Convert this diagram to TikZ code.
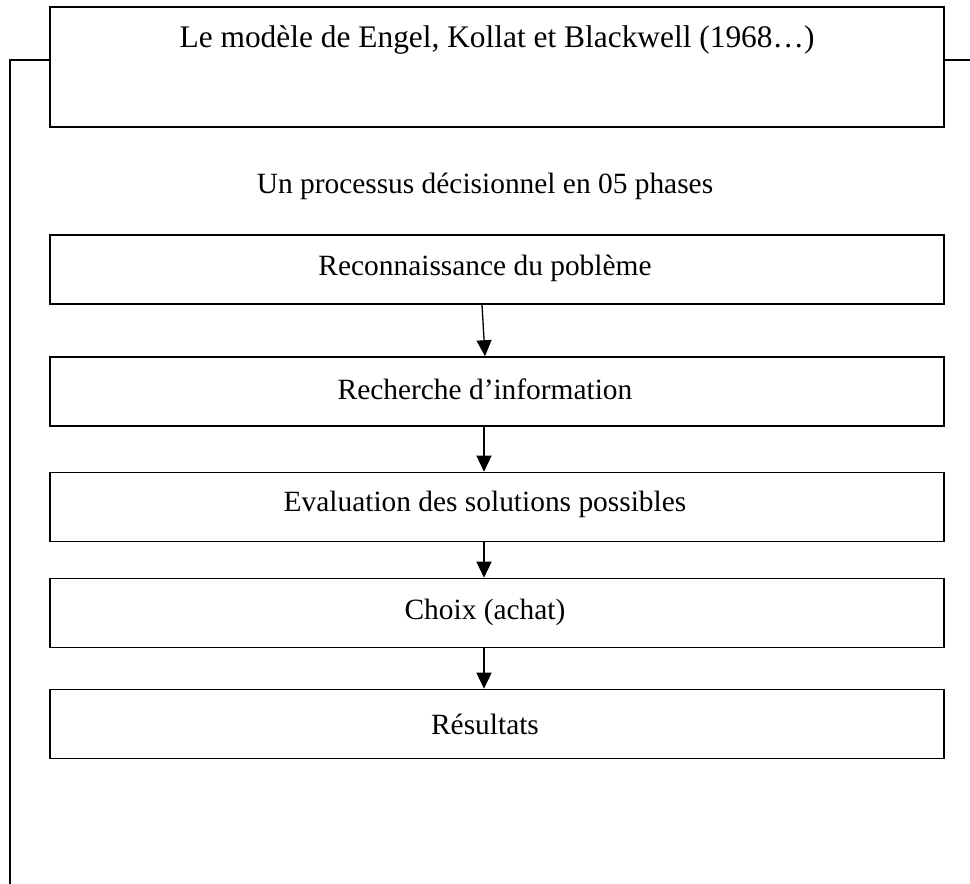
\documentclass[tikz,border=0pt]{standalone}
\usepackage{fontspec}
\setmainfont{Liberation Serif}
\usetikzlibrary{arrows.meta}
\begin{document}
\begin{tikzpicture}[x=1pt,y=-1pt,line width=1.6pt,
  frame/.style={draw,minimum width=894pt,inner sep=0pt},
  phase/.style={frame,minimum height=69pt},
  lbl/.style={font=\fontsize{29.4}{34}\selectfont,inner sep=0pt},
  flow/.style={-{Triangle[length=16pt,width=15pt]},line width=1.3pt}]
\useasboundingbox (0,0) rectangle (970,884);

% title box and the bracket that runs down the left side
\node[frame,minimum height=120pt] (title) at (497,67) {};
\node[lbl,font=\fontsize{31.4}{36}\selectfont] (ttl) at (497,40) {Le modèle de Engel, Kollat et Blackwell (1968…)};
\coordinate (bl) at (10,884);
\coordinate (br) at (970,60);
\draw (bl) -- (10,60) -- (title.west |- br);
\draw (title.east |- br) -- (br);

\node[lbl] (sub) at (485,186) {Un processus décisionnel en 05 phases};

% the five phases
\node[phase] (b1) at (497,269.5) {};
\node[phase] (b2) at (497,391.5) {};
\node[phase] (b3) at (497,507) {};
\node[phase] (b4) at (497,613) {};
\node[phase] (b5) at (497,724) {};

\node[lbl] (t1) at (485,268) {Reconnaissance du poblème};
\node[lbl] (t2) at (485,389) {Recherche d’information};
\node[lbl] (t3) at (485,504) {Evaluation des solutions possibles};
\node[lbl] (t4) at (485,612) {Choix (achat)};
\node[lbl] (t5) at (485,724) {Résultats};

% arrows between phases
\coordinate (ax) at (484,0);
\coordinate (ax0) at (482,0);
\coordinate (ax1) at (485,0);
\draw[flow] (b1.south -| ax0) -- (b2.north -| ax1);
\draw[flow] (b2.south -| ax) -- (b3.north -| ax);
\draw[flow] (b3.south -| ax) -- (b4.north -| ax);
\draw[flow] (b4.south -| ax) -- (b5.north -| ax);
\end{tikzpicture}
\end{document}
